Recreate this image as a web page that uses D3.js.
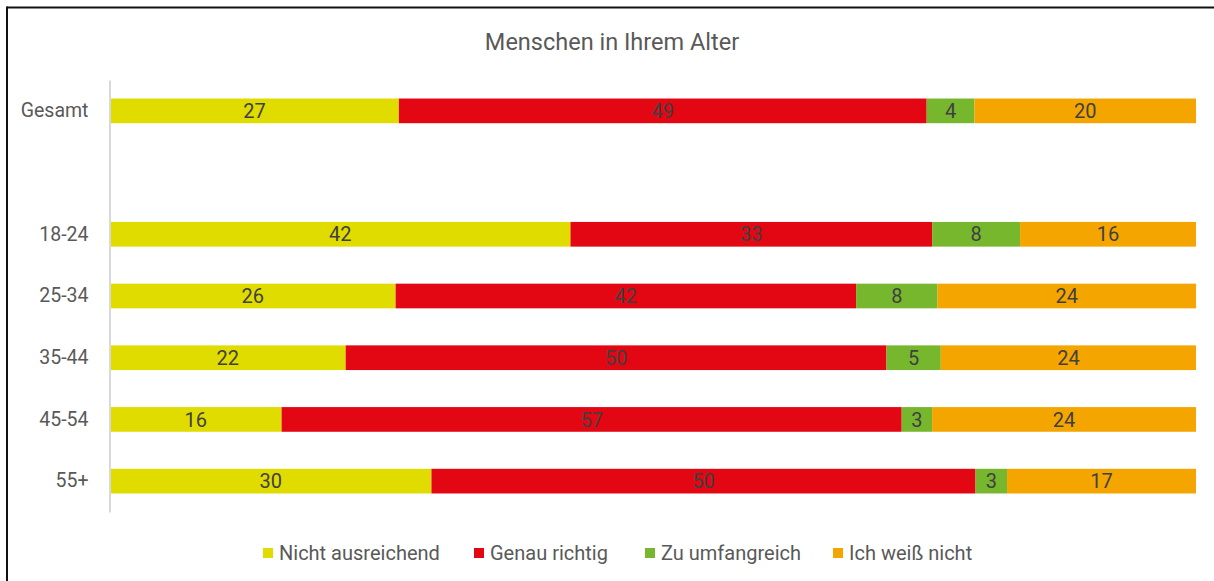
<!DOCTYPE html>
<html>
<head>
<meta charset="utf-8">
<script src="https://cdn.jsdelivr.net/npm/d3@7"></script>
<style>
  html, body { margin: 0; padding: 0; background: #fff; }
  svg { display: block; }
  text { font-family: "Roboto", "DejaVu Sans", sans-serif; }
</style>
</head>
<body>
<svg id="chart" width="1214" height="581"></svg>
<script>
const title = "Menschen in Ihrem Alter";
const categories = ["Gesamt", "", "18-24", "25-34", "35-44", "45-54", "55+"];
const seriesNames = ["Nicht ausreichend", "Genau richtig", "Zu umfangreich", "Ich weiß nicht"];
const seriesColors = ["#e0dc00", "#e30613", "#77b72d", "#f5a500"];
// estimated percentages (labels show rounded values)
const nichtAusreichend = [26.6, null, 42.4, 26.3, 21.7, 15.8, 29.6];
const genauRichtig     = [48.6, null, 33.3, 42.4, 49.8, 57.1, 50.1];
const zuUmfangreich    = [4.4,  null, 8.1,  7.5,  5.0,  2.8,  2.9];
const ichWeissNicht    = [20.4, null, 16.2, 23.8, 23.5, 24.3, 17.4];

const seriesValues = [nichtAusreichend, genauRichtig, zuUmfangreich, ichWeissNicht];

const rows = categories.map((c, i) => {
  const o = { cat: c, key: "c" + i };
  seriesNames.forEach((s, j) => { o[s] = seriesValues[j][i] == null ? 0 : seriesValues[j][i]; });
  return o;
});

const svg = d3.select("#chart");

// border (left and top)
svg.append("line").attr("x1", 7).attr("x2", 1214).attr("y1", 7.5).attr("y2", 7.5)
  .attr("stroke", "#111").attr("stroke-width", 2);
svg.append("line").attr("x1", 7).attr("x2", 7).attr("y1", 6.5).attr("y2", 581)
  .attr("stroke", "#111").attr("stroke-width", 2);

svg.append("text").attr("x", 612).attr("y", 50).attr("text-anchor", "middle")
  .attr("fill", "#595959").attr("font-size", 23.5).text(title);

const x = d3.scaleLinear().domain([0, 1]).range([110, 1196]);
const y = d3.scaleBand().domain(rows.map(r => r.key)).range([80, 512])
  .paddingInner(0.6).paddingOuter(0.3);

const stack = d3.stack().keys(seriesNames).offset(d3.stackOffsetExpand);
const stacked = stack(rows);

const color = d3.scaleOrdinal().domain(seriesNames).range(seriesColors);

const groups = svg.append("g").selectAll("g").data(stacked).join("g")
  .attr("fill", d => color(d.key));

groups.selectAll("rect").data(d => d.map(v => ({ v, key: d.key })))
  .join("rect")
  .filter(d => d.v.data.cat !== "")
  .attr("x", d => x(d.v[0]))
  .attr("y", d => y(d.v.data.key))
  .attr("width", d => x(d.v[1]) - x(d.v[0]))
  .attr("height", y.bandwidth());

// data labels
const labels = svg.append("g");
stacked.forEach(s => {
  s.forEach(v => {
    if (v.data.cat === "") return;
    labels.append("text")
      .attr("x", (x(v[0]) + x(v[1])) / 2)
      .attr("y", y(v.data.key) + y.bandwidth() / 2)
      .attr("dy", "0.36em")
      .attr("text-anchor", "middle")
      .attr("font-size", 20)
      .attr("fill", "#404040")
      .text(Math.round(v.data[s.key]));
  });
});

// y axis
const yAxis = d3.axisLeft(y).tickSize(0).tickPadding(21)
  .tickFormat(k => rows.find(r => r.key === k).cat);
const ax = svg.append("g").attr("transform", "translate(109.5,0)").call(yAxis);
ax.select(".domain").attr("stroke", "#d9d9d9").attr("stroke-width", 2);
ax.selectAll("text").attr("font-size", 19.5).attr("fill", "#595959")
  .attr("font-family", "Roboto, sans-serif");

// legend
const legendX = [263, 474, 645, 833];
const lg = svg.append("g").selectAll("g").data(seriesNames).join("g")
  .attr("transform", (d, i) => `translate(${legendX[i]},553)`);
lg.append("rect").attr("x", 0).attr("y", -5).attr("width", 10).attr("height", 10)
  .attr("fill", d => color(d));
lg.append("text").attr("x", 16).attr("y", 0).attr("dy", "0.36em")
  .attr("font-size", 20).attr("fill", "#595959").text(d => d);
</script>
</body>
</html>
